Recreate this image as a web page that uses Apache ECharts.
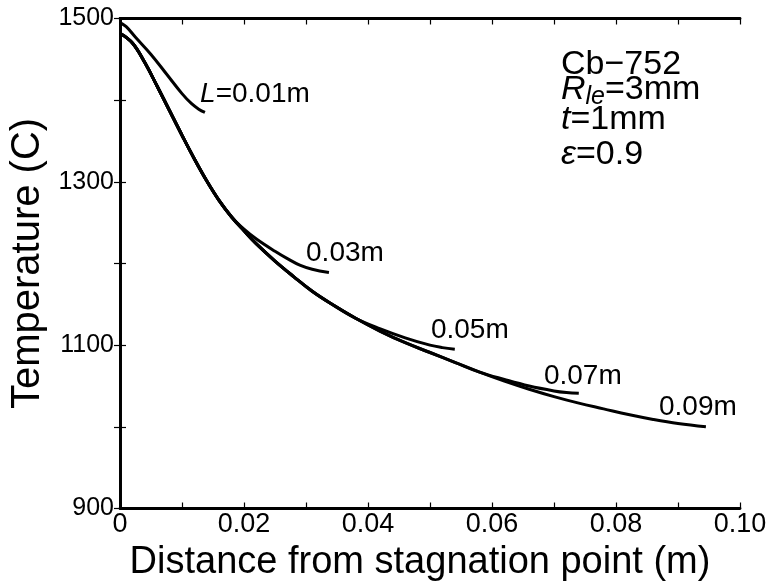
<!DOCTYPE html>
<html>
<head>
<meta charset="utf-8">
<script src="https://cdn.jsdelivr.net/npm/echarts@6/dist/echarts.min.js"></script>
<style>html,body{margin:0;padding:0;background:#fff}#c{width:773px;height:581px}</style>
</head>
<body>
<div id="c"></div>
<script>
// ---- data ----
const xTicks = [0, 0.02, 0.04, 0.06, 0.08, 0.10];
const yTicks = [900, 1100, 1300, 1500];

const x01 = [0, 0.001, 0.0025, 0.005, 0.0075, 0.010, 0.0115, 0.0127, 0.0137];
const t01 = [1495, 1490, 1477, 1456, 1432, 1408, 1396, 1389, 1385];

const xBase = [0, 0.002, 0.004, 0.006, 0.008, 0.010, 0.012, 0.014, 0.016, 0.018];
const tBase = [1482, 1470, 1446, 1417, 1387, 1357, 1328, 1301, 1277, 1257];

const x03 = [0.020, 0.022, 0.025, 0.027, 0.029, 0.031, 0.0337];
const t03 = [1242, 1230, 1215, 1206, 1198, 1193, 1189];

const xMid = [0.020, 0.022, 0.025, 0.028, 0.031, 0.034, 0.038];
const tMid = [1240, 1224, 1203, 1184, 1166, 1151, 1133];

const x05 = [0.042, 0.046, 0.050, 0.052, 0.054];
const t05 = [1120, 1109, 1100, 1097, 1095];

const xMid2 = [0.042, 0.046, 0.050, 0.054, 0.058];
const tMid2 = [1117, 1103, 1091, 1079, 1067];

const x07 = [0.062, 0.066, 0.070, 0.072, 0.074];
const t07 = [1058, 1050, 1044, 1042, 1041];

const x09tail = [0.062, 0.066, 0.070, 0.074, 0.078, 0.082, 0.086, 0.090, 0.0945];
const t09tail = [1056, 1046, 1037, 1029, 1022, 1015, 1009, 1004, 1000];

const labels = ['{i|L}=0.01m', '0.03m', '0.05m', '0.07m', '0.09m'];

// ---- build curves ----
function zip(xs, ts) { return xs.map((x, i) => [x, ts[i]]); }
const base = zip(xBase, tBase);
const mid = base.concat(zip(xMid, tMid));
const mid2 = mid.concat(zip(xMid2, tMid2));
const curves = [
  zip(x01, t01),
  base.concat(zip(x03, t03)),
  mid.concat(zip(x05, t05)),
  mid2.concat(zip(x07, t07)),
  mid2.concat(zip(x09tail, t09tail))
];
const labelOffsets = [[50, -18], [16, -19], [15, -19], [4, -17], [-8, -20]];

const FONT = '"Liberation Sans", Arial, Helvetica, sans-serif';
const chart = echarts.init(document.getElementById('c'), null, { renderer: 'canvas' });

const axisLineStyle = { show: true, lineStyle: { color: '#000', width: 2.8 } };
const tickStyle = { show: true, inside: true, length: 6, lineStyle: { color: '#000', width: 1.2 } };

const series = curves.map((d, k) => ({
  type: 'line',
  data: d,
  smooth: 0.4,
  showSymbol: false,
  symbol: 'none',
  lineStyle: { color: '#000', width: 3 },
  silent: true,
  animation: false,
  markPoint: {
    symbol: 'circle',
    symbolSize: 0,
    animation: false,
    data: [{ coord: d[d.length - 1] }],
    label: {
      show: true,
      position: 'inside',
      offset: labelOffsets[k],
      formatter: labels[k],
      color: '#000',
      fontFamily: FONT,
      fontSize: 28,
      rich: { i: { fontStyle: 'italic', fontFamily: FONT, fontSize: 28, color: '#000' } }
    }
  }
}));

chart.setOption({
  animation: false,
  backgroundColor: '#fff',
  grid: { left: 120, right: 33, top: 18.5, bottom: 72.5, containLabel: false, outerBoundsMode: 'none' },
  xAxis: [{
    type: 'value', min: 0, max: 0.1, interval: 0.01, position: 'bottom',
    axisLine: axisLineStyle, axisTick: tickStyle, splitLine: { show: false },
    axisLabel: {
      color: '#000', fontFamily: FONT, fontSize: 27, margin: 3,
      formatter: v => {
        const hit = xTicks.find(t => Math.abs(t - v) < 1e-9);
        if (hit === undefined) return '';
        return hit === 0 ? '0' : hit.toFixed(2);
      }
    },
    name: 'Distance from stagnation point (m)', nameLocation: 'middle', nameGap: 26,
    nameTextStyle: { color: '#000', fontFamily: FONT, fontSize: 38, padding: [0, 20, 0, 0] }
  }, {
    type: 'value', min: 0, max: 0.1, interval: 0.01, position: 'top',
    axisLine: axisLineStyle, axisTick: tickStyle, splitLine: { show: false },
    axisLabel: { show: false }
  }],
  yAxis: [{
    type: 'value', min: 900, max: 1500, interval: 100, position: 'left',
    axisLine: axisLineStyle, axisTick: tickStyle, splitLine: { show: false },
    axisLabel: {
      color: '#000', fontFamily: FONT, fontSize: 25, margin: 6,
      formatter: v => yTicks.indexOf(v) >= 0 ? String(v) : ''
    },
    name: 'Temperature (C)', nameLocation: 'middle', nameGap: 69,
    nameTextStyle: { color: '#000', fontFamily: FONT, fontSize: 40, verticalAlign: 'bottom' }
  }, {
    type: 'value', min: 900, max: 1500, interval: 100, position: 'right',
    axisLine: axisLineStyle, axisTick: tickStyle, splitLine: { show: false },
    axisLabel: { show: false }
  }],
  series: series,
  graphic: [
    { type: 'text', left: 561, top: 48, style: { text: 'Cb\u2212752', font: '34px ' + FONT, fill: '#000' } },
    { type: 'text', left: 561, top: 73, style: {
        text: '{i|R}{s|le}=3mm', fill: '#000', font: '34px ' + FONT,
        rich: { i: { fontStyle: 'italic', fontSize: 34, fontFamily: FONT }, s: { fontStyle: 'italic', fontSize: 25, fontFamily: FONT, verticalAlign: 'bottom', padding: [14, 0, 0, 0] } }
    } },
    { type: 'text', left: 561, top: 103, style: {
        text: '{i|t}=1mm', fill: '#000', font: '34px ' + FONT,
        rich: { i: { fontStyle: 'italic', fontSize: 34, fontFamily: FONT } }
    } },
    { type: 'text', left: 561, top: 138, style: {
        text: '{i|\u03b5}=0.9', fill: '#000', font: '34px ' + FONT,
        rich: { i: { fontStyle: 'italic', fontSize: 34, fontFamily: FONT } }
    } }
  ]
});
</script>
</body>
</html>
